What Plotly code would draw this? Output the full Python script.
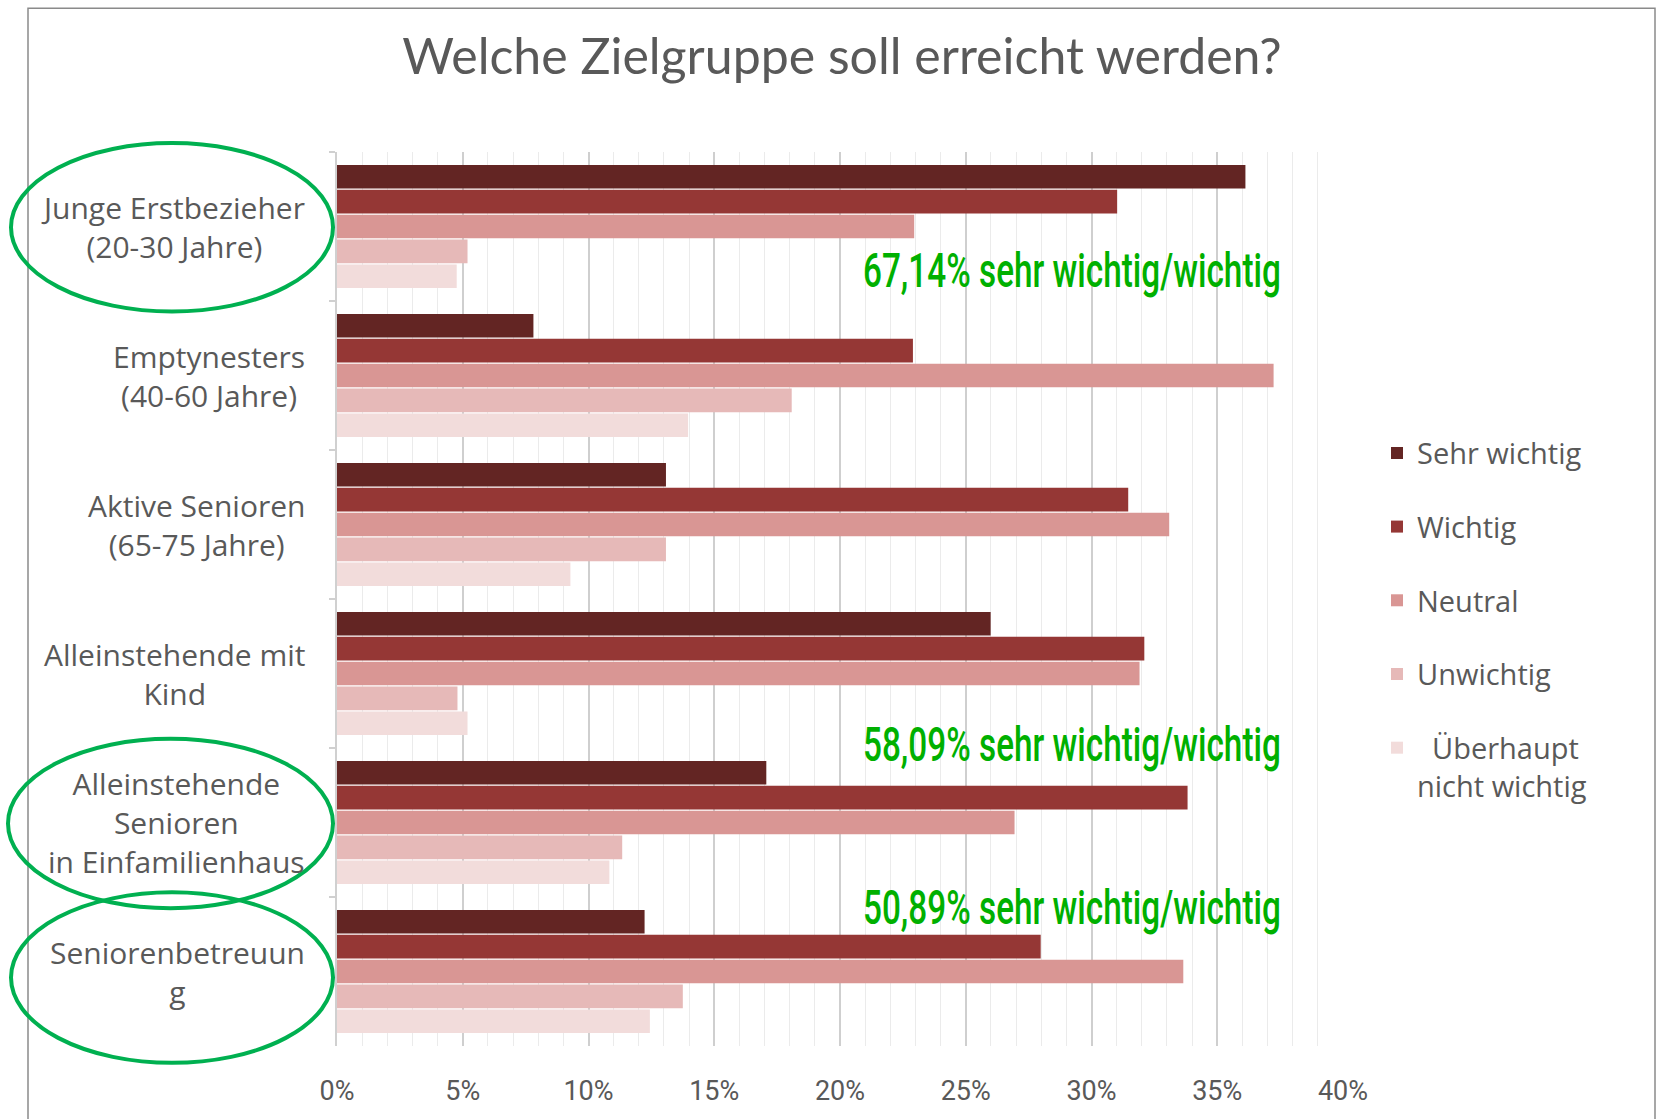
import plotly.graph_objects as go

# ---------------- data ----------------
categories = [
    "Junge Erstbezieher<br>(20-30 Jahre)",
    "Emptynesters<br>(40-60 Jahre)",
    "Aktive Senioren<br>(65-75 Jahre)",
    "Alleinstehende mit<br>Kind",
    "Alleinstehende<br>Senioren<br>in Einfamilienhaus",
    "Seniorenbetreuun<br>g",
]
series_names = ["Sehr wichtig", "Wichtig", "Neutral", "Unwichtig",
                "\u00a0\u00a0Überhaupt<br>nicht wichtig"]
sehr_wichtig = [36.12, 7.81, 13.08, 25.99, 17.07, 12.23]
wichtig      = [31.02, 22.90, 31.46, 32.10, 33.82, 27.98]
neutral      = [22.95, 37.24, 33.09, 31.91, 26.94, 33.65]
unwichtig    = [5.19, 18.08, 13.08, 4.79, 11.34, 13.75]
ueberhaupt   = [4.76, 13.96, 9.28, 5.19, 10.83, 12.44]
series_values = [sehr_wichtig, wichtig, neutral, unwichtig, ueberhaupt]
x_ticks = [0, 5, 10, 15, 20, 25, 30, 35, 40]
x_ticktext = ["0%", "5%", "10%", "15%", "20%", "25%", "30%", "35%", "40%"]
callouts = ["67,14% sehr wichtig/wichtig",
            "58,09% sehr wichtig/wichtig",
            "50,89% sehr wichtig/wichtig"]

# ---------------- styling ----------------
colors = ["#632523", "#953735", "#D99694", "#E6B9B8", "#F2DCDB"]
W, H = 1656, 1119
L, R, T, B = 337, 1343, 152, 1054
GRAY = "#595959"
TITLE_FONT = "Lato, 'Open Sans', sans-serif"
LABEL_FONT = "'Open Sans', Lato, sans-serif"
NARROW = "Roboto, 'DejaVu Sans', sans-serif"


def px_x(x):
    return (x - L) / (R - L)


def px_y(y):
    return (B - y) / (B - T)


fig = go.Figure()
for name, vals, col in zip(series_names, series_values, colors):
    fig.add_trace(go.Bar(
        y=categories, x=vals, name=name, orientation="h",
        marker=dict(color=col, line=dict(width=0)),
        legendgroup=name,
    ))

annotations = []
# category labels (centered lines, right-aligned block)
for cat in categories:
    annotations.append(dict(
        text=cat, xref="paper", yref="y", x=px_x(307), y=cat,
        xanchor="right", yanchor="middle", align="center", showarrow=False,
        font=dict(family=LABEL_FONT, size=30, color=GRAY),
    ))
# green call-outs
for txt, yc in zip(callouts, [272, 750, 914]):
    annotations.append(dict(
        text=txt, xref="paper", yref="paper", x=px_x(1072), y=px_y(yc),
        xanchor="center", yanchor="middle", showarrow=False,
        font=dict(family=NARROW, size=48, color="#00B000", weight=500),
    ))

shapes = []
# outer frame
shapes.append(dict(type="rect", xref="paper", yref="paper",
                   x0=px_x(28), x1=px_x(1655), y0=px_y(7), y1=px_y(1140),
                   line=dict(color="#8a8a8a", width=1.5), layer="below"))
# green ellipses
for x0, y0, x1, y1 in [(11, 143, 333, 313), (8, 744, 333, 915), (11, 899, 333, 1071)]:
    shapes.append(dict(type="circle", xref="paper", yref="paper",
                       x0=px_x(x0), x1=px_x(x1), y0=px_y(y1), y1=px_y(y0),
                       line=dict(color="#00B050", width=4)))

fig.update_layout(
    width=W, height=H,
    margin=dict(l=L, r=W - R, t=T, b=H - B, pad=0),
    paper_bgcolor="white", plot_bgcolor="white",
    barmode="group", bargap=0.165, bargroupgap=0.05,
    title=dict(text="Welche Zielgruppe soll erreicht werden?",
               x=842 / W, xanchor="center", xref="container",
               y=1 - 56 / H, yanchor="middle", yref="container",
               font=dict(family=TITLE_FONT, size=50, color=GRAY)),
    legend=dict(x=px_x(1377), xanchor="left", y=px_y(430), yanchor="top",
                font=dict(family=LABEL_FONT, size=29, color=GRAY),
                tracegroupgap=33, valign="top", traceorder="grouped",
                bgcolor="rgba(0,0,0,0)"),
    annotations=annotations, shapes=shapes,
    showlegend=True,
)
fig.update_xaxes(
    range=[0, 40], tickvals=x_ticks, ticktext=x_ticktext,
    showgrid=True, gridcolor="#cfcfcf", gridwidth=1.5,
    minor=dict(dtick=1, tick0=0, showgrid=True, gridcolor="#ebebeb", gridwidth=1),
    zeroline=False, showline=False, ticks="",
    ticklabelstandoff=26,
    tickfont=dict(family=NARROW, size=27, color=GRAY),
)
fig.update_yaxes(
    autorange="reversed", showticklabels=False,
    showline=True, linecolor="#d0d0d0", linewidth=1.5,
    ticks="outside", tickson="boundaries", ticklen=6, tickcolor="#d0d0d0", tickwidth=1.5,
    showgrid=False, zeroline=False,
)

# condense the green call-out text horizontally (the original uses a condensed face)
post = """
document.body.style.margin='0';document.body.style.overflow='hidden';
var gd = document.getElementById('{plot_id}');
function condense(){
  gd.querySelectorAll('text.annotation-text').forEach(function(t){
    if (t.textContent.indexOf('sehr wichtig/wichtig') >= 0) {
      t.removeAttribute('transform');
      var bb = t.getBBox();
      var s = 418 / bb.width;
      var cx = bb.x + bb.width / 2;
      t.setAttribute('transform', 'translate(' + cx + ',0) scale(' + s + ',1) translate(' + (-cx) + ',0)');
    }
  });
}
condense();
"""
fig.write_html("out.html", config={"displayModeBar": False}, post_script=post)
